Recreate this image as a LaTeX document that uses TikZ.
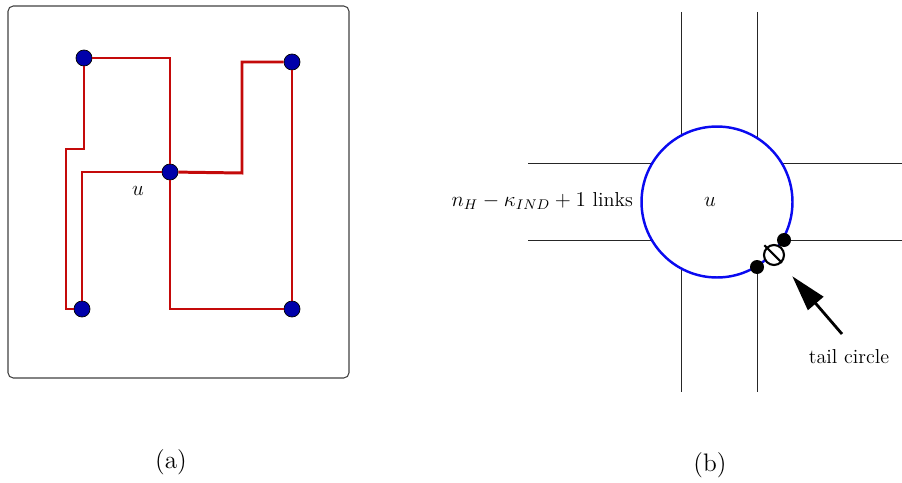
\documentclass[tikz,border=0pt]{standalone}
\definecolor{pathred}{RGB}{196, 10, 10}
\definecolor{dotblue}{RGB}{0, 0, 170}
\definecolor{ringblue}{RGB}{10, 10, 240}
\usepackage{tikz}
\usetikzlibrary{shapes, arrows.meta, positioning, calc}
\usepackage{amsmath, amssymb}

\begin{document}
\begin{tikzpicture}[x=0.02cm, y=-0.02cm,
    font=\fontsize{11.5pt}{14pt}\selectfont,
    dot/.style={circle, draw=black, line width=0.4pt, fill=dotblue, minimum size=0.32cm, inner sep=0pt},
    route/.style={draw=pathred, line width=1.1pt},
    grid/.style={draw=black!85, line width=0.55pt},
    crossing/.style={circle, fill=black, minimum size=0.28cm, inner sep=0pt},
    pointer/.style={line width=1.6pt, -{Triangle[length=0.72cm, width=0.4cm]}}]
  \useasboundingbox (0,0) rectangle (902,483);

  % (a) the tree of red routes
  \draw[black!75, line width=0.6pt, rounded corners=3pt] (8,6) rectangle (349,378);
  \node[dot] (tl) at (84,58) {};
  \node[dot] (tr) at (292,62) {};
  \node[dot] (c) at (170,172) {};
  \node[dot] (bl) at (82,309) {};
  \node[dot] (br) at (292,309) {};
  \coordinate (kink) at (66,149);
  \coordinate (step) at (242,173);
  \draw[route] (tl) -| (c);
  \draw[route] (c) |- (br);
  \draw[route] (tr) -- (br);
  \draw[route] (c) -| (bl);
  \draw[route] (tl) |- (kink) |- (bl);
  \draw[route, line width=1.7pt] (c) -- (step) |- (tr);
  \node (ua) at (138,191) {$u$};
  \node (capa) at (171,462) {\Large (a)};

  % (b) the cell and its tail circle
  \coordinate (v1t) at (681,12);  \coordinate (v1b) at (681,392);
  \coordinate (v2t) at (757,12);  \coordinate (v2b) at (757,392);
  \coordinate (h1l) at (528,163); \coordinate (h1r) at (902,163);
  \coordinate (h2l) at (528,240); \coordinate (h2r) at (902,240);
  \draw[grid] (v1t) -- (v1b);
  \draw[grid] (v2t) -- (v2b);
  \draw[grid] (h1l) -- (h1r);
  \draw[grid] (h2l) -- (h2r);
  \node[circle, draw=ringblue, line width=1.4pt, fill=white, minimum size=3.02cm, inner sep=0pt] (cell) at (717,202) {};
  \node (ub) at (710,202) {$u$};
  \node[anchor=east] (links) at (639,201) {$n_H - \kappa_{IND} + 1$ links};
  \node[crossing] (x1) at (784,240) {};
  \node[crossing] (x2) at (757,267) {};
  \node[circle, draw=black, line width=1.2pt, fill=white, minimum size=0.4cm, inner sep=0pt] (tail) at (774,255) {};
  \draw[line width=1.2pt] ($(tail.135)!-0.12!(tail.-45)$) -- (tail.-45);
  \node (tailtxt) at (849,357) {tail circle};
  \coordinate (tailfoot) at (842,334);
  \draw[pointer, shorten >=0.56cm] (tailfoot) -- (tail.center);
  \node (capb) at (710,465) {\Large (b)};
\end{tikzpicture}
\end{document}
